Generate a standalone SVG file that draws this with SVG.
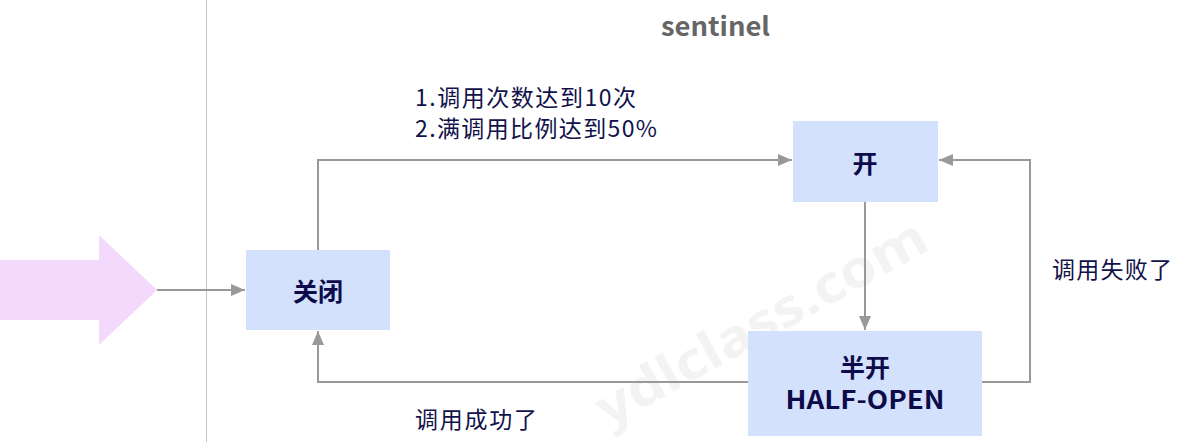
<svg xmlns="http://www.w3.org/2000/svg" width="1191" height="442" viewBox="0 0 1191 442">
<style>
.box{fill:#d4e1fc}
.bt{font-family:"Noto Sans CJK SC","Noto Sans",sans-serif;font-weight:bold;font-size:25px;fill:#0d0b4a;text-anchor:middle}
.lb{font-family:"Noto Sans CJK SC","Noto Sans",sans-serif;font-size:23px;fill:#12124a}
.ln{fill:none;stroke:#999;stroke-width:2}
</style>
<defs>
<marker id="a" viewBox="0 0 14 12" refX="14" refY="6" markerWidth="14" markerHeight="12" orient="auto" markerUnits="userSpaceOnUse">
<path d="M0,0 L14,6 L0,12 z" fill="#999"/>
</marker>
</defs>
<rect width="1191" height="442" fill="#fff"/>
<text transform="translate(608,428) rotate(-29)" font-family="Noto Sans, sans-serif" font-weight="bold" font-size="52" fill="#f3f3f3" textLength="370" lengthAdjust="spacingAndGlyphs">ydlclass.com</text>
<line x1="206.5" y1="0" x2="206.5" y2="442" stroke="#c4c4c4" stroke-width="1"/>
<polygon points="0,260 99,260 99,235 157,290 99,345 99,320 0,320" fill="#f3d9fc"/>
<text x="661" y="36" font-family="Noto Sans CJK SC, Noto Sans, sans-serif" font-weight="bold" font-size="26" fill="#666" textLength="109" lengthAdjust="spacingAndGlyphs">sentinel</text>
<g id="connectors">
<path class="ln" d="M157,290 H245" marker-end="url(#a)"/>
<path class="ln" d="M318,250 V160 H792" marker-end="url(#a)"/>
<path class="ln" d="M865,202 V330" marker-end="url(#a)"/>
<path class="ln" d="M982,382 H1030 V160 H939" marker-end="url(#a)"/>
<path class="ln" d="M748,382 H318 V331" marker-end="url(#a)"/>
</g>
<g id="label-trigger">
<text class="lb" x="415" y="106" textLength="221" lengthAdjust="spacing">1.调用次数达到10次</text>
<text class="lb" x="415" y="137" textLength="242" lengthAdjust="spacing">2.满调用比例达到50%</text>
</g>
<g id="label-fail"><text class="lb" x="1052" y="278" textLength="120" lengthAdjust="spacing">调用失败了</text></g>
<g id="label-success"><text class="lb" x="415" y="428" textLength="122" lengthAdjust="spacing">调用成功了</text></g>
<g id="closed">
<rect class="box" x="246" y="250" width="144" height="80"/>
<text class="bt" x="318" y="301">关闭</text>
</g>
<g id="open">
<rect class="box" x="793" y="121" width="145" height="81"/>
<text class="bt" x="865" y="173">开</text>
</g>
<g id="halfopen">
<rect class="box" x="748" y="331" width="234" height="105"/>
<text class="bt" x="865" y="377">半开</text>
<text class="bt" x="865" y="409" font-size="27" textLength="159" lengthAdjust="spacingAndGlyphs">HALF-OPEN</text>
</g>
</svg>
